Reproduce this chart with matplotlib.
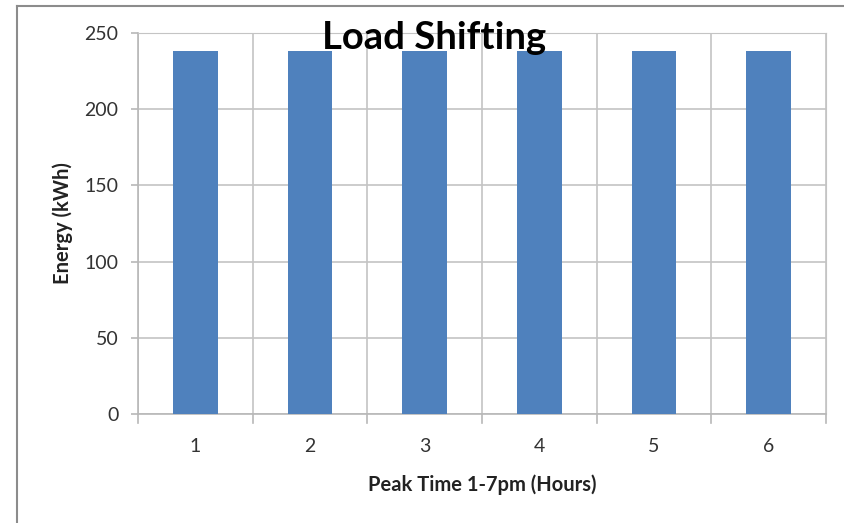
import matplotlib.pyplot as plt
from matplotlib.lines import Line2D

hours = ['1', '2', '3', '4', '5', '6']
energy = [238, 238, 238, 238, 238, 238]
y_ticks = [0, 50, 100, 150, 200, 250]

plt.rcParams['font.family'] = ['Lato', 'DejaVu Sans']

fig = plt.figure(figsize=(8.44, 5.23), dpi=100)
ax = fig.add_axes([0.1635, 0.2084, 0.8152, 0.7285])

x = list(range(len(hours)))
ax.bar(x, energy, width=0.39, color='#4f81bd', zorder=3)

ax.set_xlim(-0.5, len(hours) - 0.5)
ax.set_ylim(0, 250)
ax.set_yticks(y_ticks)
ax.set_xticks(x)
ax.set_xticklabels(hours)

# gridlines between categories, Excel style
for b in [i + 0.5 for i in range(-1, len(hours))]:
    ax.axvline(b, color='#c4c4c4', lw=1.2, zorder=1)
    ax.plot([b, b], [0, -0.024], transform=ax.get_xaxis_transform(),
            color='#b8b8b8', lw=1.2, clip_on=False)
ax.yaxis.grid(True, color='#c4c4c4', lw=1.2, zorder=1)
ax.set_axisbelow(True)

for side in ['top', 'right']:
    ax.spines[side].set_color('#c4c4c4')
for side in ['left', 'bottom']:
    ax.spines[side].set_color('#b8b8b8')
    ax.spines[side].set_linewidth(1.2)

ax.tick_params(axis='x', length=0, pad=17, labelsize=14, colors='#333333')
ax.tick_params(axis='y', length=5, width=1.2, color='#b8b8b8', pad=9,
               labelsize=14, labelcolor='#333333')

ax.set_xlabel('Peak Time 1-7pm (Hours)', fontsize=14.5, fontweight='bold',
              color='#222222', va='center')
ax.xaxis.set_label_coords(0.5, -0.186)
ax.set_ylabel('Energy (kWh)', fontsize=14.5, fontweight='bold',
              color='#222222', va='center')
ax.yaxis.set_label_coords(-0.109, 0.5)

fig.text(0.514, 1 - 49 / 523, 'Load Shifting', ha='center', va='baseline',
         fontsize=27.5, fontweight='bold', color='black')

# chart border
fig.add_artist(Line2D([17 / 844, 1], [1 - 6 / 523, 1 - 6 / 523],
                      color='#8c8c8c', lw=1.5))
fig.add_artist(Line2D([17 / 844, 17 / 844], [0, 1 - 6 / 523],
                      color='#8c8c8c', lw=1.5))

fig.savefig('out.png', dpi=100)
